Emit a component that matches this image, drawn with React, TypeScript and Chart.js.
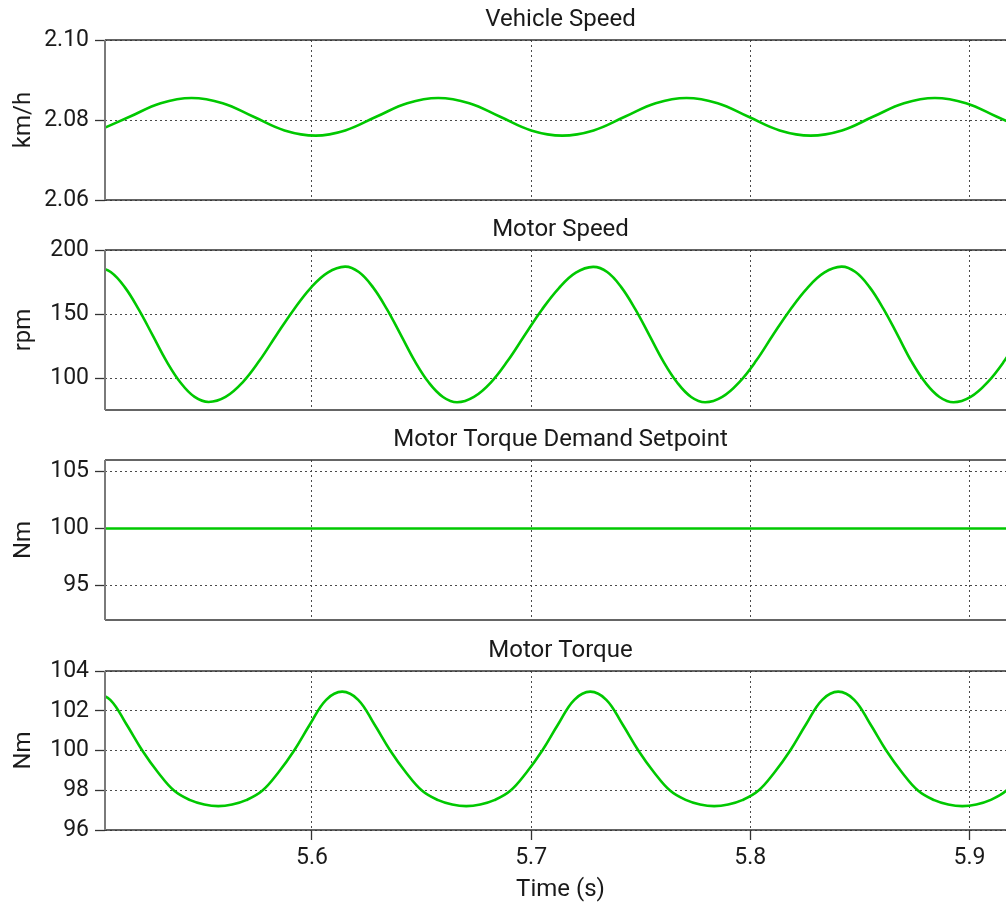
import React, { useEffect, useRef } from "react";
import { Chart, registerables } from "chart.js";

Chart.register(...registerables);

const FONT = "Roboto";
const GREEN = "#00c800";
const TEXT = "#1a1a1a";

// Shared time axis
const X_MIN = 5.5056;
const X_MAX = 5.9212;
const timeTicks = [5.6, 5.7, 5.8, 5.9];

// Vehicle Speed (km/h)
const vehicleTime = [5.5027, 5.5168, 5.531, 5.5451, 5.5593, 5.5734, 5.5875, 5.6017, 5.6152, 5.6293, 5.6435, 5.6576, 5.6718, 5.6859, 5.7, 5.7142, 5.7285, 5.7427, 5.7568, 5.7709, 5.7851, 5.7992, 5.8134, 5.8275, 5.8418, 5.8559, 5.8701, 5.8842, 5.8984, 5.9125, 5.9266];
const vehicleSpeed = [2.0774, 2.0808, 2.0842, 2.0855, 2.0842, 2.0808, 2.0774, 2.0761, 2.0774, 2.0808, 2.0842, 2.0855, 2.0842, 2.0808, 2.0774, 2.0761, 2.0774, 2.0808, 2.0842, 2.0855, 2.0842, 2.0808, 2.0774, 2.0761, 2.0774, 2.0808, 2.0842, 2.0855, 2.0842, 2.0808, 2.0774];
const vehicleTicks = [2.06, 2.08, 2.1];

// Motor Speed (rpm)
const motorTime = [5.5018, 5.5082, 5.5146, 5.5209, 5.5273, 5.5337, 5.5401, 5.5465, 5.5529, 5.5606, 5.5684, 5.5761, 5.5839, 5.5917, 5.5994, 5.6072, 5.6151, 5.6214, 5.6278, 5.6342, 5.6406, 5.647, 5.6534, 5.6598, 5.6662, 5.6739, 5.6817, 5.6894, 5.6972, 5.7049, 5.7127, 5.7204, 5.7283, 5.7347, 5.7411, 5.7475, 5.7539, 5.7603, 5.7667, 5.773, 5.7794, 5.7872, 5.7949, 5.8027, 5.8104, 5.8182, 5.826, 5.8337, 5.8416, 5.848, 5.8544, 5.8608, 5.8672, 5.8735, 5.8799, 5.8863, 5.8927, 5.9005, 5.9082, 5.916, 5.9237];
const motorSpeed = [
  187, 182.8, 171, 153.8, 133.5, 113, 96.3, 85.2, 81.3, 85.2, 96.6, 113.6, 133.8, 153.4, 170.3, 182.3,
  187, 182.8, 171, 153.8, 133.5, 113, 96.3, 85.2, 81, 85.2, 96.6, 113.6, 133.8, 153.4, 170.3, 182.3,
  186.8, 182.8, 171, 153.8, 133.5, 113, 96.3, 85.2, 81, 85.2, 96.6, 113.6, 133.8, 153.4, 170.3, 182.3,
  187, 182.8, 171, 153.8, 133.5, 113, 96.3, 85.2, 81, 85.2, 96.6, 113.6, 133.8,
];
const motorTicks = [100, 150, 200];

// Motor Torque Demand Setpoint (Nm)
const setpointTime = [5.5056, 5.6, 5.7, 5.8, 5.9, 5.9212];
const setpoint = [100, 100, 100, 100, 100, 100];
const setpointTicks = [95, 100, 105];

// Motor Torque (Nm)
const torqueTime = [5.5007, 5.508, 5.5153, 5.5226, 5.5299, 5.5372, 5.5445, 5.5509, 5.5573, 5.5636, 5.57, 5.5773, 5.5846, 5.5919, 5.5992, 5.6065, 5.6138, 5.6211, 5.6284, 5.6357, 5.643, 5.6503, 5.6576, 5.664, 5.6704, 5.6768, 5.6832, 5.6905, 5.6978, 5.7051, 5.7124, 5.7197, 5.727, 5.7343, 5.7416, 5.7489, 5.7562, 5.7635, 5.7708, 5.7771, 5.7835, 5.7899, 5.7963, 5.8036, 5.8109, 5.8182, 5.8255, 5.8328, 5.8401, 5.8474, 5.8547, 5.862, 5.8693, 5.8766, 5.8839, 5.8903, 5.8967, 5.9031, 5.9094, 5.9167, 5.924];
const torque = [
  102.96, 102.55, 101.33, 100, 98.88, 97.97, 97.5, 97.28, 97.2, 97.28, 97.5, 97.97, 98.88, 100, 101.33, 102.55,
  102.96, 102.55, 101.33, 100, 98.88, 97.97, 97.5, 97.28, 97.2, 97.28, 97.5, 97.97, 98.88, 100, 101.33, 102.55,
  102.96, 102.55, 101.33, 100, 98.88, 97.97, 97.5, 97.28, 97.2, 97.28, 97.5, 97.97, 98.88, 100, 101.33, 102.55,
  102.96, 102.55, 101.33, 100, 98.88, 97.97, 97.5, 97.28, 97.2, 97.28, 97.5, 97.97, 98.88,
];
const torqueTicks = [96, 98, 100, 102, 104];

type PanelCfg = {
  title: string;
  unit: string;
  times: number[];
  values: number[];
  yMin: number;
  yMax: number;
  yTicks: number[];
  decimals: number;
  top: number;
  height: number;
  axisH: number;
  last: boolean;
};

const panels: PanelCfg[] = [
  { title: "Vehicle Speed", unit: "km/h", times: vehicleTime, values: vehicleSpeed, yMin: 2.06, yMax: 2.1, yTicks: vehicleTicks, decimals: 2, top: 5, height: 225, axisH: 30, last: false },
  { title: "Motor Speed", unit: "rpm", times: motorTime, values: motorSpeed, yMin: 75, yMax: 200, yTicks: motorTicks, decimals: 0, top: 215, height: 225, axisH: 30, last: false },
  { title: "Motor Torque Demand Setpoint", unit: "Nm", times: setpointTime, values: setpoint, yMin: 92, yMax: 106, yTicks: setpointTicks, decimals: 0, top: 425, height: 225, axisH: 30, last: false },
  { title: "Motor Torque", unit: "Nm", times: torqueTime, values: torque, yMin: 96, yMax: 104, yTicks: torqueTicks, decimals: 0, top: 636, height: 268, axisH: 74, last: true },
];

const CANVAS_W = 1016;

const framePlugin = {
  id: "frame",
  afterDatasetsDraw(chart: any) {
    const { ctx, chartArea } = chart;
    const { left, right, top, bottom } = chartArea;
    ctx.save();
    ctx.strokeStyle = "#333333";
    ctx.lineWidth = 1.3;
    ctx.beginPath();
    ctx.moveTo(left, top);
    ctx.lineTo(right, top);
    ctx.moveTo(left, bottom);
    ctx.lineTo(right, bottom);
    ctx.moveTo(right, top);
    ctx.lineTo(right, bottom);
    ctx.stroke();
    ctx.strokeStyle = "#7a7a7a";
    ctx.lineWidth = 2;
    ctx.beginPath();
    ctx.moveTo(left, top);
    ctx.lineTo(left, bottom);
    ctx.stroke();
    ctx.restore();
  },
};

function Panel({ cfg }: { cfg: PanelCfg }) {
  const ref = useRef<HTMLCanvasElement | null>(null);
  useEffect(() => {
    if (!ref.current) return;
    const points = cfg.times.map((t, i) => ({ x: t, y: cfg.values[i] }));
    const gridCommon = {
      color: "#4a4a4a",
      lineWidth: 1,
      tickLength: 10,
      tickColor: "#333333",
      tickWidth: 1.3,
      tickBorderDash: [],
    };
    const chart = new Chart(ref.current, {
      type: "line",
      data: {
        datasets: [
          {
            data: points,
            borderColor: GREEN,
            borderWidth: 2.6,
            pointRadius: 0,
            fill: false,
            tension: 0.4,
          } as any,
        ],
      },
      plugins: [framePlugin],
      options: {
        animation: false,
        responsive: false,
        devicePixelRatio: 1,
        layout: { padding: 0 },
        plugins: {
          legend: { display: false },
          tooltip: { enabled: false },
          title: {
            display: true,
            text: cfg.title,
            fullSize: false,
            color: TEXT,
            font: { family: FONT, size: 24, weight: "normal", lineHeight: 1.25 },
            padding: { top: 0, bottom: 5 },
          },
        },
        scales: {
          x: {
            type: "linear",
            min: X_MIN,
            max: X_MAX,
            afterBuildTicks: (s: any) => {
              s.ticks = timeTicks.map((v) => ({ value: v }));
            },
            afterFit: (s: any) => {
              s.height = cfg.axisH;
            },
            ticks: {
              display: cfg.last,
              autoSkip: false,
              maxRotation: 0,
              color: TEXT,
              padding: 4,
              font: { family: FONT, size: 23 },
              callback: (v: any) => Number(v).toFixed(1),
            },
            grid: { ...gridCommon, drawTicks: cfg.last },
            border: { display: false, dash: [2, 3] },
            title: {
              display: cfg.last,
              text: "Time (s)",
              color: TEXT,
              font: { family: FONT, size: 24 },
              padding: { top: 0, bottom: 0 },
            },
          },
          y: {
            type: "linear",
            min: cfg.yMin,
            max: cfg.yMax,
            afterBuildTicks: (s: any) => {
              s.ticks = cfg.yTicks.map((v) => ({ value: v }));
            },
            afterFit: (s: any) => {
              s.width = 105;
            },
            ticks: {
              color: TEXT,
              padding: 6,
              font: { family: FONT, size: 23 },
              callback: (v: any) => Number(v).toFixed(cfg.decimals),
            },
            grid: { ...gridCommon, drawTicks: true },
            border: { display: false, dash: [2, 3] },
            title: {
              display: true,
              text: cfg.unit,
              color: TEXT,
              font: { family: FONT, size: 24 },
              padding: { top: 10, bottom: 0 },
            },
          },
        },
      } as any,
    });
    return () => chart.destroy();
  }, [cfg]);
  return (
    <canvas
      ref={ref}
      width={CANVAS_W}
      height={cfg.height}
      style={{ position: "absolute", left: 0, top: cfg.top, width: CANVAS_W, height: cfg.height }}
    />
  );
}

export default function App() {
  return (
    <div
      style={{
        position: "absolute",
        left: 0,
        top: 0,
        width: 1006,
        height: 904,
        overflow: "hidden",
        background: "#ffffff",
      }}
    >
      {panels.map((p) => (
        <Panel key={p.title} cfg={p} />
      ))}
    </div>
  );
}
